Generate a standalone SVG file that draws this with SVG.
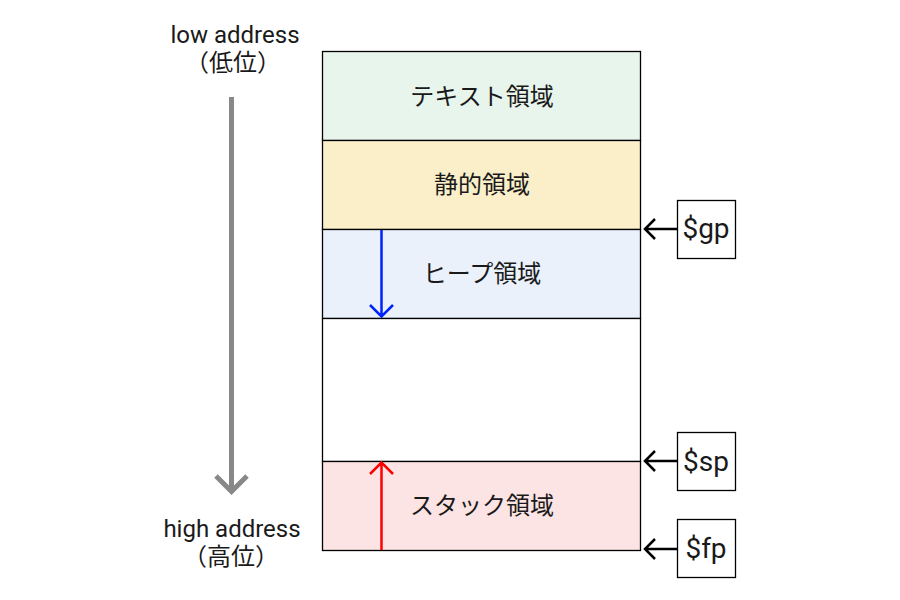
<svg xmlns="http://www.w3.org/2000/svg" width="900" height="600" viewBox="0 0 900 600">
<style>
text{font-family:Roboto,"Noto Sans CJK JP",sans-serif;font-size:24px;fill:#1a1a1a;text-anchor:middle}
.r{font-size:28px}
.row{stroke:#000;stroke-width:1.3}
.reg{fill:#fff;stroke:#000;stroke-width:1.3}
.ptr{fill:none;stroke:#000;stroke-width:2.5}
</style>
<rect width="900" height="600" fill="#fff"/>
<g id="text-seg"><rect class="row" x="322.5" y="51.5" width="318" height="89" fill="#e8f5ec"/><text x="482" y="105">テキスト領域</text></g>
<g id="static-seg"><rect class="row" x="322.5" y="140.5" width="318" height="89" fill="#fbefca"/><text x="482" y="193">静的領域</text></g>
<g id="heap-seg"><rect class="row" x="322.5" y="229.5" width="318" height="89" fill="#eaf1fb"/><text x="482" y="282">ヒープ領域</text></g>
<g id="free-seg"><rect class="row" x="322.5" y="318.5" width="318" height="143" fill="#fff"/></g>
<g id="stack-seg"><rect class="row" x="322.5" y="461.5" width="318" height="89" fill="#fde4e4"/><text x="482" y="514">スタック領域</text></g>
<g id="low-label"><text x="235" y="43">low address</text><text x="233" y="71">（低位）</text></g>
<g id="high-label"><text x="232" y="537">high address</text><text x="231" y="565">（高位）</text></g>
<g id="gp"><rect class="reg" x="677.5" y="200.5" width="58" height="58"/><text class="r" x="706" y="238">$gp</text></g>
<g id="sp"><rect class="reg" x="677.5" y="432.5" width="58" height="58"/><text class="r" x="706" y="471">$sp</text></g>
<g id="fp"><rect class="reg" x="677.5" y="519.5" width="58" height="58"/><text class="r" x="706" y="558">$fp</text></g>
<g id="connectors">
<path d="M231.5 97V491M216 476l15.5 15.5L247 476" fill="none" stroke="#888" stroke-width="5"/>
<path d="M381.5 230V316M370 305l11.5 11.5L393 305" fill="none" stroke="#0022ff" stroke-width="2.5"/>
<path d="M381.5 550V463M370 474l11.5-11.5L393 474" fill="none" stroke="#ff0000" stroke-width="2.5"/>
<path class="ptr" d="M677 229H645M655 219l-10 10 10 10"/>
<path class="ptr" d="M677 461H645M655 451l-10 10 10 10"/>
<path class="ptr" d="M677 549H645M655 539l-10 10 10 10"/>
</g>
</svg>
